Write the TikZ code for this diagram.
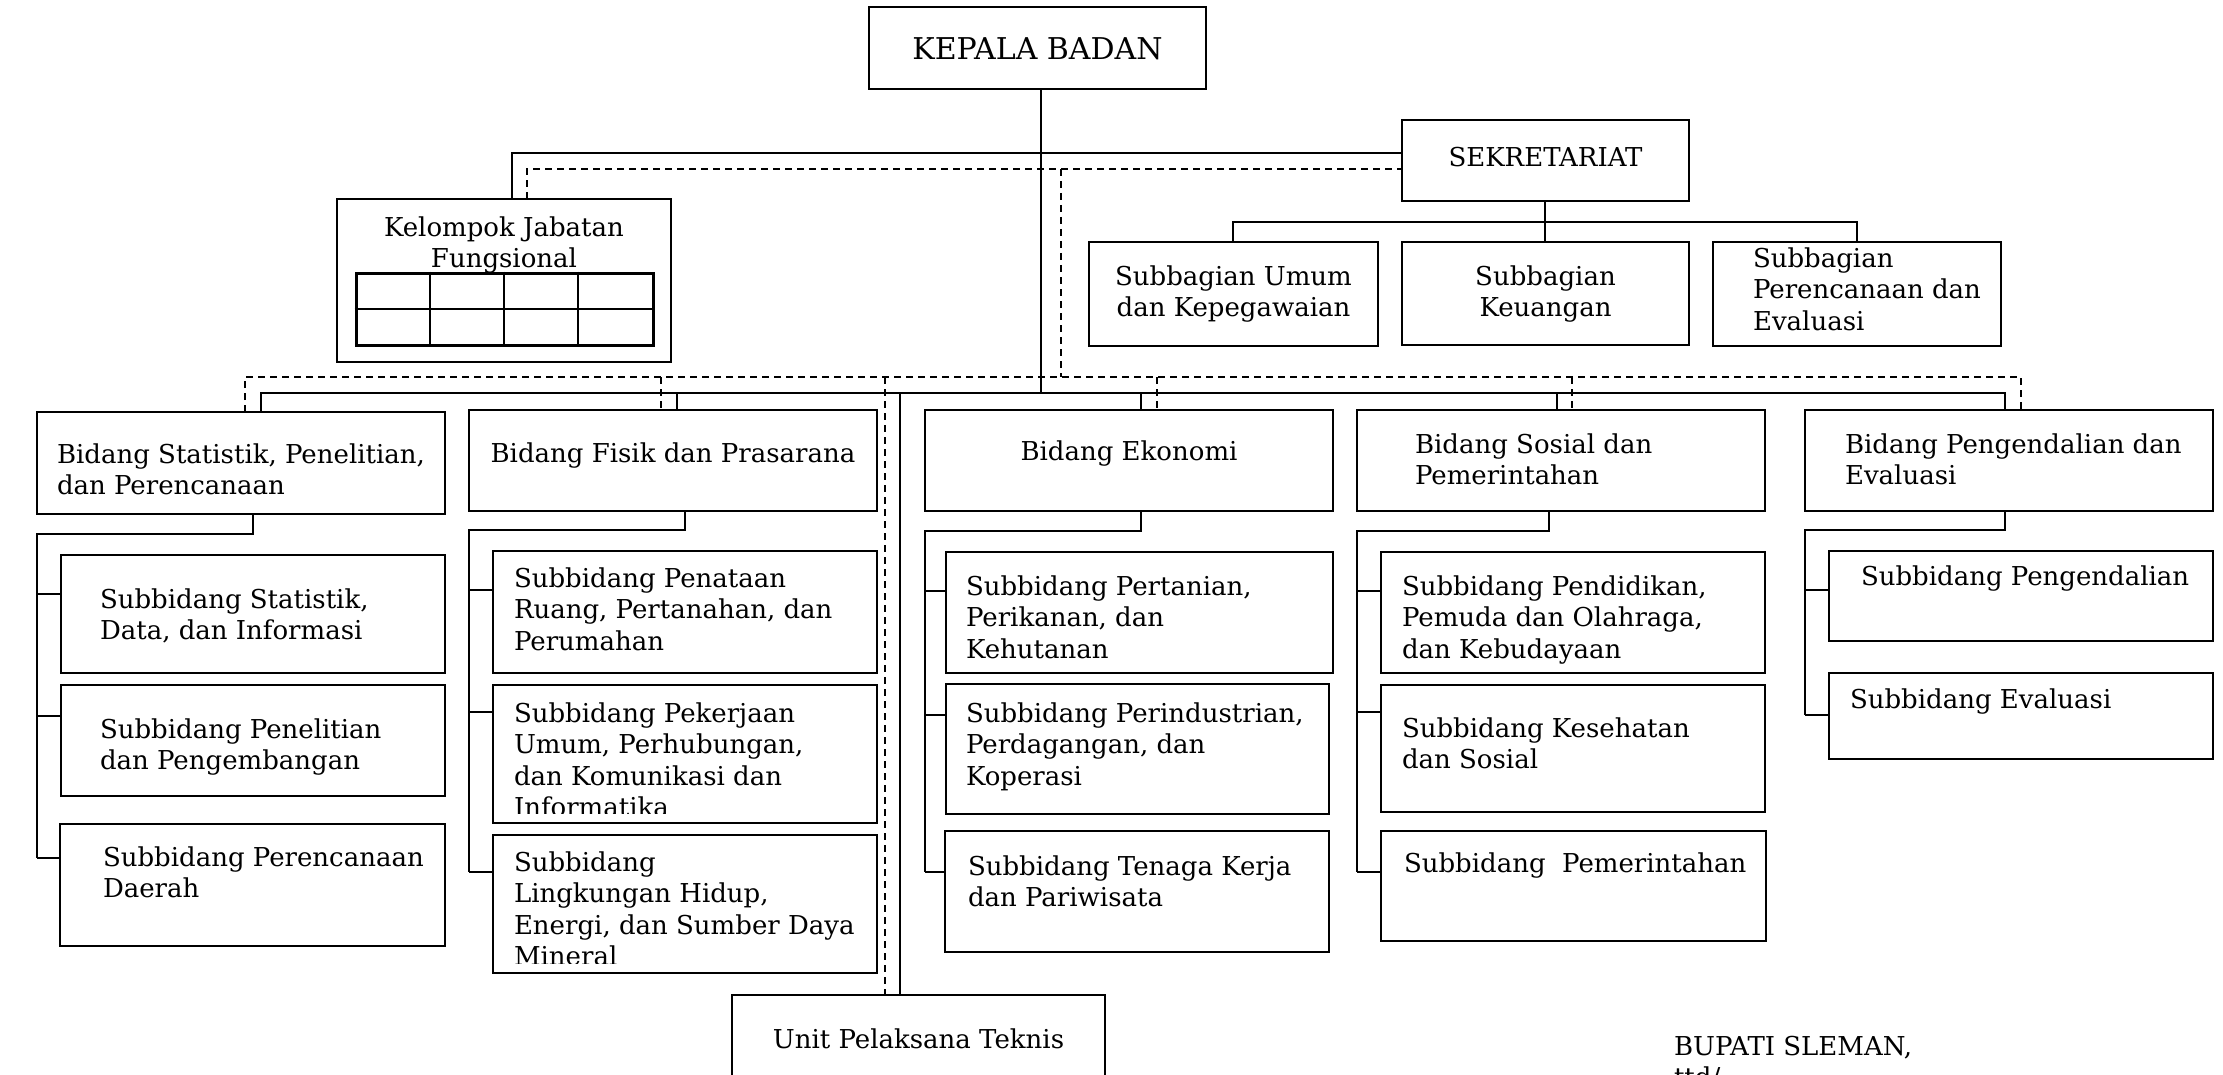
\documentclass[tikz,border=0pt]{standalone}
\usepackage{fontspec}
\setmainfont{DejaVu Serif}
\usetikzlibrary{calc}
\newcommand\BoxAt[5]{\node[box,minimum width={(#4-#2)*1pt},minimum height={(#5-#3)*1pt}] (#1) at ({(#2+#4)/2},{(#3+#5)/2}) {};}
\newcommand\TxtL[4]{\node[txt,anchor=north west,align=left] (#1) at (#2,{#3-22.05}) {\strut #4};}
\newcommand\TxtC[4]{\node[txt,anchor=north,align=center] (#1) at (#2,{#3-22.05}) {\strut #4};}
\begin{document}
\begin{tikzpicture}[x=1pt,y=-1pt,
  box/.style={draw,line width=2pt,rectangle,inner sep=0pt,outer sep=0pt},
  txt/.style={inner sep=0pt,outer sep=0pt,font=\fontsize{26}{31.5}\selectfont},
  ln/.style={line width=2pt},
  dl/.style={line width=2pt,dash pattern=on 7pt off 5pt}]
\useasboundingbox[fill=white] (0,0) rectangle (2223,1075);

% ---------- boxes ----------
\BoxAt{K}{869}{7}{1206}{89}
\BoxAt{S}{1402}{120}{1689}{201}
\BoxAt{KJF}{337}{199}{671}{362}
\BoxAt{SU}{1089}{242}{1378}{346}
\BoxAt{SK}{1402}{242}{1689}{345}
\BoxAt{SP}{1713}{242}{2001}{346}
\BoxAt{B1}{37}{412}{445}{514}
\BoxAt{B2}{469}{410}{877}{511}
\BoxAt{B3}{925}{410}{1333}{511}
\BoxAt{B4}{1357}{410}{1765}{511}
\BoxAt{B5}{1805}{410}{2213}{511}
\BoxAt{s11}{61}{555}{445}{673}
\BoxAt{s12}{61}{685}{445}{796}
\BoxAt{s13}{60}{824}{445}{946}
\BoxAt{s21}{493}{551}{877}{673}
\BoxAt{s22}{493}{685}{877}{823}
\BoxAt{s23}{493}{835}{877}{973}
\BoxAt{s31}{946}{552}{1333}{673}
\BoxAt{s32}{946}{684}{1329}{814}
\BoxAt{s33}{945}{831}{1329}{952}
\BoxAt{s41}{1381}{552}{1765}{673}
\BoxAt{s42}{1381}{685}{1765}{812}
\BoxAt{s43}{1381}{831}{1766}{941}
\BoxAt{s51}{1829}{551}{2213}{641}
\BoxAt{s52}{1829}{673}{2213}{759}
\BoxAt{U}{732}{995}{1105}{1110}

% table inside Kelompok Jabatan Fungsional
\node[draw,line width=3pt,inner sep=0pt,minimum width=297pt,minimum height=72pt] (tbl) at (504.5,309) {};
\draw[ln] (tbl.west) -- (tbl.east);
\foreach \xx in {430,504,578} \draw[ln] (tbl.north -| \xx,0) -- (tbl.south -| \xx,0);

% ---------- coordinates ----------
\coordinate (kb) at (1041,393);
\coordinate (ks) at (512,153);
\coordinate (dk1) at (527,169);
\coordinate (dK) at (1061,169);
\coordinate (dKb) at (1061,377);
\coordinate (busL) at (261,393);
\coordinate (busR) at (2005,393);
\coordinate (d2) at (677,393);
\coordinate (d3) at (1141,393);
\coordinate (d4) at (1557,393);
\coordinate (dU) at (900,393);
\coordinate (dbL) at (245,377);
\coordinate (dbR) at (2021,377);
\coordinate (e2) at (661,377);
\coordinate (e3) at (1157,377);
\coordinate (e4) at (1572,377);
\coordinate (eU) at (885,377);
\coordinate (sj) at (1545,222);
\coordinate (sjl) at (1233,222);
\coordinate (sjr) at (1857,222);

% ---------- solid connectors ----------
\draw[ln] (K.south -| kb) -- (kb);
\draw[ln] (KJF.north -| ks) -- (ks) -- (S.west |- ks);
\draw[ln] (B1.north -| busL) -- (busL) -- (busR) -- (B5.north -| busR);
\draw[ln] (d2) -- (B2.north -| d2);
\draw[ln] (d3) -- (B3.north -| d3);
\draw[ln] (d4) -- (B4.north -| d4);
\draw[ln] (dU) -- (U.north -| dU);
\draw[ln] (S.south -| sj) -- (sj);
\draw[ln] (SU.north -| sjl) -- (sjl) -- (sjr) -- (SP.north -| sjr);
\draw[ln] (sj) -- (SK.north -| sj);

% ---------- dashed connectors ----------
\draw[dl] (KJF.north -| dk1) -- (dk1) -- (S.west |- dk1);
\draw[dl] (dK) -- (dKb);
\draw[dl] (B1.north -| dbL) -- (dbL) -- (dbR) -- (B5.north -| dbR);
\draw[dl] (e2) -- (B2.north -| e2);
\draw[dl] (e3) -- (B3.north -| e3);
\draw[dl] (e4) -- (B4.north -| e4);
\draw[dl] (eU) -- (U.north -| eU);

% ---------- bidang to subbidang ----------
\coordinate (a1) at (253,534); \coordinate (l1) at (37,534);
\coordinate (b11) at (37,594); \coordinate (b12) at (37,716); \coordinate (b13) at (37,858);
\draw[ln] (B1.south -| a1) -- (a1) -- (l1) -- (b13);
\draw[ln] (b11) -- (s11.west |- b11);
\draw[ln] (b12) -- (s12.west |- b12);
\draw[ln] (b13) -- (s13.west |- b13);

\coordinate (a2) at (685,530); \coordinate (l2) at (469,530);
\coordinate (b21) at (469,590); \coordinate (b22) at (469,712); \coordinate (b23) at (469,872);
\draw[ln] (B2.south -| a2) -- (a2) -- (l2) -- (b23);
\draw[ln] (b21) -- (s21.west |- b21);
\draw[ln] (b22) -- (s22.west |- b22);
\draw[ln] (b23) -- (s23.west |- b23);

\coordinate (a3) at (1141,531); \coordinate (l3) at (925,531);
\coordinate (b31) at (925,591); \coordinate (b32) at (925,715); \coordinate (b33) at (925,872);
\draw[ln] (B3.south -| a3) -- (a3) -- (l3) -- (b33);
\draw[ln] (b31) -- (s31.west |- b31);
\draw[ln] (b32) -- (s32.west |- b32);
\draw[ln] (b33) -- (s33.west |- b33);

\coordinate (a4) at (1549,531); \coordinate (l4) at (1357,531);
\coordinate (b41) at (1357,591); \coordinate (b42) at (1357,712); \coordinate (b43) at (1357,872);
\draw[ln] (B4.south -| a4) -- (a4) -- (l4) -- (b43);
\draw[ln] (b41) -- (s41.west |- b41);
\draw[ln] (b42) -- (s42.west |- b42);
\draw[ln] (b43) -- (s43.west |- b43);

\coordinate (a5) at (2005,530); \coordinate (l5) at (1805,530);
\coordinate (b51) at (1805,590); \coordinate (b52) at (1805,715);
\draw[ln] (B5.south -| a5) -- (a5) -- (l5) -- (b52);
\draw[ln] (b51) -- (s51.west |- b51);
\draw[ln] (b52) -- (s52.west |- b52);

% ---------- texts ----------
\node[txt,font=\fontsize{30}{36}\selectfont,anchor=base] (tK) at (1037.5,60) {KEPALA BADAN};
\TxtC{tS}{1545.5}{167}{SEKRETARIAT}
\TxtC{tKJF}{504}{236}{Kelompok Jabatan\\Fungsional}
\TxtC{tSU}{1233.5}{285}{Subbagian Umum\\dan Kepegawaian}
\TxtC{tSK}{1545.5}{285}{Subbagian\\Keuangan}
\TxtL{tSP}{1753}{267}{Subbagian\\Perencanaan dan\\Evaluasi}
\TxtL{tB1}{57}{463}{Bidang Statistik, Penelitian,\\dan Perencanaan}
\TxtC{tB2}{673}{462}{Bidang Fisik dan Prasarana}
\TxtC{tB3}{1129}{460}{Bidang Ekonomi}
\TxtL{tB4}{1415}{453}{Bidang Sosial dan\\Pemerintahan}
\TxtL{tB5}{1845}{453}{Bidang Pengendalian dan\\Evaluasi}
\TxtL{t11}{100}{608}{Subbidang Statistik,\\Data, dan Informasi}
\TxtL{t12}{100}{738}{Subbidang Penelitian\\dan Pengembangan}
\TxtL{t13}{103}{866}{Subbidang Perencanaan\\Daerah}
\TxtL{t21}{514}{587}{Subbidang Penataan\\Ruang, Pertanahan, dan\\Perumahan}
\begin{scope}
\clip (s22.north west) rectangle ($(s22.south east)+(0,-10)$);
\TxtL{t22}{514}{722}{Subbidang Pekerjaan\\Umum, Perhubungan,\\dan Komunikasi dan\\Informatika}
\end{scope}
\begin{scope}
\clip (s23.north west) rectangle ($(s23.south east)+(0,-10)$);
\TxtL{t23}{514}{871}{Subbidang\\Lingkungan Hidup,\\Energi, dan Sumber Daya\\Mineral}
\end{scope}
\TxtL{t31}{966}{595}{Subbidang Pertanian,\\Perikanan, dan\\Kehutanan}
\TxtL{t32}{966}{722}{Subbidang Perindustrian,\\Perdagangan, dan\\Koperasi}
\TxtL{t33}{968}{875}{Subbidang Tenaga Kerja\\dan Pariwisata}
\TxtL{t41}{1402}{595}{Subbidang Pendidikan,\\Pemuda dan Olahraga,\\dan Kebudayaan}
\TxtL{t42}{1402}{737}{Subbidang Kesehatan\\dan Sosial}
\TxtL{t43}{1404}{872}{Subbidang\ \ Pemerintahan}
\TxtL{t51}{1861}{585}{Subbidang Pengendalian}
\TxtL{t52}{1850}{708}{Subbidang Evaluasi}
\TxtC{tU}{918.5}{1048}{Unit Pelaksana Teknis}
\TxtL{tBup}{1674}{1055}{BUPATI SLEMAN,\\ttd/}
\end{tikzpicture}
\end{document}
